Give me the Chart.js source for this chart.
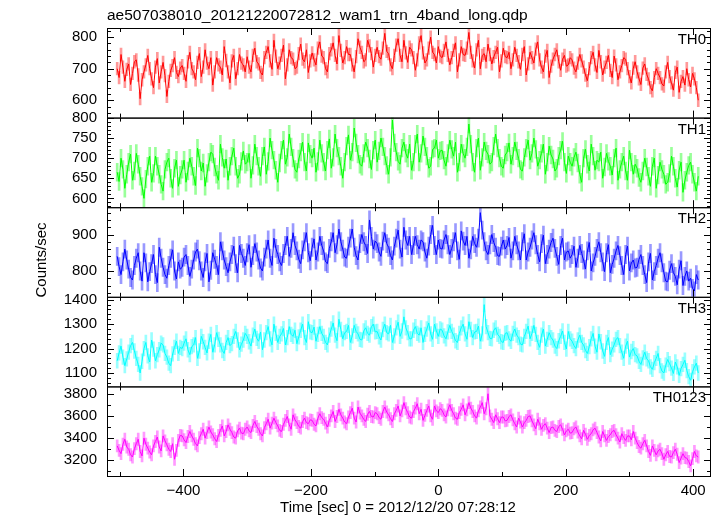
<!DOCTYPE html>
<html lang="en">
<head>
<meta charset="UTF-8" />
<title>ae507038010 WAM light curve</title>
<style>
  body { margin: 0; background: #fff; }
  #wrap { width: 718px; height: 516px; }
</style>
</head>
<body>
<div id="wrap"><canvas id="lc" width="718" height="516"></canvas></div>
<script src="https://cdn.jsdelivr.net/npm/chart.js@4.4.1/dist/chart.umd.min.js"></script>
<script>
// time bins [sec] relative to 2012/12/20 07:28:12
const times = [
  -504,-501,-498,-495,-492,-489,-486,-483,-480,-477,-474,-471,-468,-465,-462,-459,-456,-453,-450,-447,-444,-441,-438,-435,-432,-429,-426,-423,-420,-417,-414,-411,-408,-405,
  -402,-399,-396,-393,-390,-387,-384,-381,-378,-375,-372,-369,-366,-363,-360,-357,-354,-351,-348,-345,-342,-339,-336,-333,-330,-327,-324,-321,-318,-315,-312,-309,-306,-303,
  -300,-297,-294,-291,-288,-285,-282,-279,-276,-273,-270,-267,-264,-261,-258,-255,-252,-249,-246,-243,-240,-237,-234,-231,-228,-225,-222,-219,-216,-213,-210,-207,-204,-201,
  -198,-195,-192,-189,-186,-183,-180,-177,-174,-171,-168,-165,-162,-159,-156,-153,-150,-147,-144,-141,-138,-135,-132,-129,-126,-123,-120,-117,-114,-111,-108,-105,-102,-99,
  -96,-93,-90,-87,-84,-81,-78,-75,-72,-69,-66,-63,-60,-57,-54,-51,-48,-45,-42,-39,-36,-33,-30,-27,-24,-21,-18,-15,-12,-9,-6,-3,0,3,
  6,9,12,15,18,21,24,27,30,33,36,39,42,45,48,51,54,57,60,63,66,69,72,75,78,81,84,87,90,93,96,99,102,105,
  108,111,114,117,120,123,126,129,132,135,138,141,144,147,150,153,156,159,162,165,168,171,174,177,180,183,186,189,192,195,198,201,204,207,
  210,213,216,219,222,225,228,231,234,237,240,243,246,249,252,255,258,261,264,267,270,273,276,279,282,285,288,291,294,297,300,303,306,309,
  312,315,318,321,324,327,330,333,336,339,342,345,348,351,354,357,360,363,366,369,372,375,378,381,384,387,390,393,396,399,402,405,408
];

// counts/sec per band
const th0 = [
  700,672,745,705,660,698,715,650,685,722,728,680,605,665,690,712,742,700,668,640,705,732,655,690,720,678,612,660,695,710,735,688,675,702,
  710,685,660,722,752,700,690,665,720,748,675,705,760,718,700,735,648,690,735,712,705,680,770,726,690,655,725,742,668,700,745,718,712,690,
  738,705,690,742,765,722,715,688,680,735,752,770,725,698,790,740,700,718,742,775,668,712,760,735,730,700,705,748,778,730,722,760,688,725,
  750,728,712,765,785,740,735,700,690,748,760,782,742,715,805,758,718,735,770,745,745,712,690,738,795,768,752,722,728,790,772,748,705,742,
  768,738,730,765,812,755,748,712,700,742,775,795,742,722,790,750,720,768,760,735,695,728,782,805,750,718,728,765,800,752,745,718,770,740,
  735,758,785,742,712,735,758,782,690,728,770,745,742,765,815,752,725,702,760,790,700,742,748,722,778,745,715,738,752,768,690,725,765,738,
  735,752,700,728,768,742,722,698,745,770,680,715,752,735,718,762,785,728,705,690,740,758,672,708,730,745,760,722,695,730,742,708,712,735,
  728,702,690,718,745,725,705,680,662,700,735,752,712,688,758,722,680,705,720,742,695,672,740,712,665,690,710,735,730,700,675,655,702,722,
  690,668,650,702,715,682,668,640,630,672,700,685,672,652,645,690,720,675,655,632,688,705,625,660,675,648,700,665,642,685,668,640,600
];
const th1 = [
  665,642,700,672,625,660,690,710,645,668,712,685,655,630,600,648,680,705,640,662,705,680,660,635,618,672,690,700,650,625,675,695,630,658,
  672,695,640,668,700,680,655,632,725,700,668,688,630,662,690,715,710,678,660,645,735,702,675,698,645,680,705,725,680,650,660,692,718,685,
  690,712,650,682,735,705,680,655,705,728,660,692,750,720,695,670,640,688,720,745,685,702,760,728,700,672,665,698,715,740,690,668,738,710,
  700,725,665,692,745,712,690,668,720,748,675,702,760,725,705,680,650,690,730,758,695,715,775,738,710,685,680,712,740,725,698,672,720,745,
  690,718,750,728,705,682,660,702,795,738,715,692,685,725,740,712,700,735,670,690,735,760,690,712,755,728,705,675,680,722,725,745,700,718,
  720,695,680,712,745,722,705,740,665,690,735,712,700,728,785,735,690,665,725,750,670,702,740,718,710,685,690,730,760,725,700,680,675,708,
  715,738,685,705,740,718,700,672,668,702,725,745,695,712,750,722,680,695,712,735,660,690,730,708,698,668,675,705,720,742,690,662,705,690,
  680,702,715,688,660,640,700,722,685,668,735,705,670,695,690,715,650,678,712,692,680,658,700,725,645,672,690,705,668,645,720,690,660,685,
  675,652,640,668,700,678,655,630,680,700,625,658,690,672,660,635,640,662,705,680,650,628,670,690,615,645,665,682,690,660,640,618,655
];
const th2 = [
  840,812,790,825,860,830,805,782,775,815,835,850,800,772,850,822,770,798,820,845,790,768,865,835,810,790,780,815,835,858,800,778,825,805,
  810,838,845,815,785,805,830,852,860,828,800,782,825,848,770,802,850,832,815,790,880,855,830,812,795,825,845,868,820,795,870,848,835,815,
  850,872,810,842,875,852,830,808,800,838,860,885,835,815,890,862,845,825,815,848,870,895,840,862,905,870,855,832,820,858,880,905,850,828,
  865,888,830,852,895,870,855,825,820,862,880,905,850,872,915,880,860,838,835,868,890,915,865,842,830,875,900,880,870,848,940,895,860,882,
  875,852,840,882,905,875,865,842,830,868,890,912,860,838,920,885,870,895,845,870,895,872,860,885,880,852,835,868,900,925,870,845,885,862,
  860,885,900,872,845,862,880,905,855,832,910,882,870,895,835,858,895,875,865,890,960,912,880,855,845,872,900,878,865,842,840,868,885,860,
  870,892,835,855,895,872,855,830,880,902,830,852,865,885,905,872,845,825,875,898,820,845,860,878,890,862,840,818,870,890,830,852,855,835,
  845,868,810,835,870,848,830,805,855,878,800,822,840,862,880,850,825,798,850,872,795,818,835,855,870,842,815,790,845,868,800,822,830,808,
  810,832,845,815,790,768,825,848,775,798,815,835,850,822,795,772,770,802,820,795,785,762,805,828,760,785,800,772,780,752,745,790,775
];
const th3 = [
  1150,1182,1210,1165,1130,1158,1185,1212,1225,1190,1160,1135,1100,1148,1200,1225,1170,1145,1235,1198,1150,1175,1195,1222,1215,1180,1165,1140,1130,1178,1205,1230,1180,1205,
  1200,1222,1240,1195,1175,1208,1215,1245,1160,1190,1250,1228,1205,1182,1230,1258,1185,1215,1265,1238,1215,1192,1180,1225,1245,1212,1220,1250,1270,1235,1195,1218,1235,1262,
  1250,1228,1210,1255,1280,1242,1230,1268,1195,1235,1265,1290,1240,1215,1300,1262,1225,1250,1260,1282,1215,1245,1290,1258,1250,1275,1220,1248,1275,1300,1245,1225,1310,1268,
  1265,1288,1230,1258,1290,1262,1250,1225,1215,1255,1280,1305,1255,1232,1320,1278,1240,1265,1270,1295,1225,1252,1295,1270,1260,1238,1235,1272,1285,1262,1255,1290,1300,1268,
  1270,1248,1235,1278,1300,1265,1260,1295,1225,1252,1285,1308,1250,1272,1330,1285,1265,1240,1240,1275,1290,1262,1255,1285,1225,1258,1280,1305,1260,1238,1300,1272,1250,1280,
  1275,1252,1240,1268,1295,1270,1255,1232,1225,1262,1285,1300,1260,1238,1310,1278,1245,1268,1270,1292,1230,1260,1380,1290,1265,1242,1240,1275,1285,1258,1250,1228,1225,1262,
  1265,1240,1230,1262,1280,1255,1245,1218,1215,1250,1270,1292,1240,1262,1295,1258,1225,1205,1255,1280,1210,1238,1265,1245,1235,1210,1200,1232,1250,1272,1225,1198,1270,1240,
  1230,1212,1200,1235,1255,1225,1215,1192,1180,1208,1240,1262,1210,1185,1260,1228,1190,1168,1225,1245,1175,1198,1215,1238,1245,1212,1185,1160,1210,1230,1165,1188,1200,1175,
  1170,1148,1135,1162,1185,1158,1150,1125,1115,1142,1160,1180,1130,1108,1100,1132,1155,1138,1120,1098,1145,1125,1090,1118,1135,1152,1110,1085,1070,1105,1125,1140,1100
];
const th0123 = [
  3330,3290,3260,3345,3390,3320,3300,3250,3230,3305,3350,3390,3280,3240,3400,3345,3310,3275,3250,3330,3370,3410,3320,3285,3420,3375,3340,3300,3280,3350,3210,3290,3380,3425,
  3420,3385,3360,3415,3460,3420,3390,3350,3330,3405,3440,3480,3400,3450,3500,3455,3430,3395,3370,3425,3470,3510,3420,3460,3520,3480,3450,3410,3400,3465,3490,3445,3440,3480,
  3500,3465,3450,3515,3550,3505,3480,3440,3420,3495,3530,3570,3490,3535,3580,3540,3510,3470,3460,3525,3560,3595,3520,3480,3610,3565,3540,3505,3490,3550,3580,3540,3530,3565,
  3560,3525,3510,3580,3620,3585,3570,3535,3500,3560,3600,3640,3550,3595,3660,3610,3580,3545,3530,3590,3630,3670,3580,3545,3680,3625,3600,3570,3550,3615,3640,3595,3590,3630,
  3620,3585,3570,3640,3680,3635,3610,3575,3550,3620,3650,3690,3600,3645,3720,3665,3630,3590,3580,3640,3670,3710,3620,3660,3560,3605,3650,3690,3600,3570,3690,3645,3630,3665,
  3650,3610,3590,3655,3700,3650,3620,3580,3570,3630,3660,3700,3610,3655,3720,3670,3640,3600,3580,3645,3680,3720,3620,3665,3800,3600,3570,3540,3610,3575,3540,3590,3590,3555,
  3560,3595,3610,3565,3530,3500,3580,3545,3500,3540,3560,3595,3600,3555,3520,3485,3570,3530,3480,3515,3530,3490,3450,3495,3500,3470,3460,3505,3520,3480,3430,3465,3480,3445,
  3450,3485,3500,3455,3420,3395,3470,3435,3390,3425,3440,3475,3490,3450,3410,3375,3460,3420,3380,3415,3430,3460,3470,3430,3400,3365,3440,3405,3380,3420,3420,3385,3460,3400,
  3360,3325,3310,3350,3380,3330,3280,3245,3330,3290,3250,3285,3300,3260,3210,3250,3280,3235,3230,3270,3300,3255,3180,3220,3260,3225,3220,3190,3150,3215,3280,3240,3230
];

const bandNames = ['TH0', 'TH1', 'TH2', 'TH3', 'TH0123'];
const bandValues = [th0, th1, th2, th3, th0123];
const bandErr = [20, 22, 25, 30, 55];       // 1-sigma error per bin
const bandRanges = [[545, 829], [578, 801], [729, 975], [1045, 1412], [3059, 3866]];
const bandMajor = [100, 50, 100, 100, 200];
const bandMinor = [20, 10, 20, 20, 100];
const xRange = [-520, 428];
const xMajor = 200, xMinor = 100;

const lineColors = ['#ff0000', '#00ff00', '#0000ff', '#00ffff', '#ff00ff'];
const errColors = ['rgba(255,0,0,0.4)', 'rgba(0,255,0,0.4)', 'rgba(0,0,255,0.4)',
                   'rgba(0,255,255,0.4)', 'rgba(255,0,255,0.4)'];

const FONT = '"Liberation Sans", Arial, Helvetica, sans-serif';
const tickFont = { family: FONT, size: 15 };

// multiples of step inside [lo, hi]
function stepValues(lo, hi, step) {
  const out = [];
  for (let v = Math.ceil(lo / step) * step; v <= hi; v += step) out.push(v);
  return out;
}

// datasets: error bars (floating bars) behind, line on top
const datasets = [];
bandValues.forEach((vals, i) => {
  datasets.push({
    type: 'line',
    label: bandNames[i],
    yAxisID: 'y' + i,
    data: times.map((t, k) => ({ x: t, y: vals[k] })),
    borderColor: lineColors[i],
    borderWidth: 1,
    pointRadius: 0,
    tension: 0,
    order: 0
  });
  datasets.push({
    type: 'bar',
    label: bandNames[i] + ' err',
    yAxisID: 'y' + i,
    data: times.map((t, k) => ({ x: t, y: [vals[k] - bandErr[i], vals[k] + bandErr[i]] })),
    backgroundColor: errColors[i],
    barThickness: 2,
    grouped: false,
    order: 1
  });
});

// x axis first, then y axes bottom-up (last defined one is stacked at the top)
const scales = {
  x: {
    type: 'linear', position: 'bottom', min: xRange[0], max: xRange[1], offset: false,
    grid: { display: false, drawTicks: false }, border: { display: false },
    afterBuildTicks: s => { s.ticks = stepValues(xRange[0], xRange[1], xMajor).map(v => ({ value: v })); },
    ticks: {
      autoSkip: false, maxRotation: 0,
      padding: 6, color: '#000', font: tickFont,
      callback: v => String(v).replace('-', '\u2212')
    },
    afterFit: s => { s.height = 40; }
  }
};
for (let i = bandNames.length - 1; i >= 0; i--) {
  scales['y' + i] = {
    type: 'linear', position: 'left', stack: 'panels', stackWeight: 1,
    min: bandRanges[i][0], max: bandRanges[i][1],
    grid: { display: false, drawTicks: false }, border: { display: false },
    afterBuildTicks: s => {
      s.ticks = stepValues(bandRanges[i][0], bandRanges[i][1], bandMajor[i]).map(v => ({ value: v }));
    },
    ticks: {
      autoSkip: false,
      padding: 10, color: '#000', font: tickFont,
      callback: v => String(v)
    },
    afterFit: s => { s.width = 60; }
  };
}

// frames, inward ticks and texts, PGPLOT style
const framePlugin = {
  id: 'frames',
  afterDraw(chart) {
    const ctx = chart.ctx;
    const xs = chart.scales.x;
    const L = xs.left, R = xs.right;
    ctx.save();
    ctx.strokeStyle = '#000';
    ctx.lineWidth = 1;
    ctx.fillStyle = '#000';
    bandNames.forEach((name, i) => {
      const ys = chart.scales['y' + i];
      const T = ys.top, B = ys.bottom;
      ctx.strokeRect(L + 0.5, T + 0.5, R - L - 1, B - T);
      ctx.beginPath();
      // x ticks on top and bottom edge of each panel
      stepValues(xRange[0], xRange[1], xMinor).forEach(v => {
        const px = Math.round(xs.getPixelForValue(v)) + 0.5;
        const len = v % xMajor === 0 ? 7 : 4;
        ctx.moveTo(px, T); ctx.lineTo(px, T + len);
        ctx.moveTo(px, B); ctx.lineTo(px, B - len);
      });
      // y ticks on left and right edge
      stepValues(bandRanges[i][0], bandRanges[i][1], bandMinor[i]).forEach(v => {
        const py = Math.round(ys.getPixelForValue(v)) + 0.5;
        const len = v % bandMajor[i] === 0 ? 7 : 4;
        ctx.moveTo(L, py); ctx.lineTo(L + len, py);
        ctx.moveTo(R, py); ctx.lineTo(R - len, py);
      });
      ctx.stroke();
      ctx.font = '15px ' + FONT;
      ctx.textAlign = 'right';
      ctx.textBaseline = 'alphabetic';
      ctx.fillText(name, R - 5, T + 16);
    });
    // title
    ctx.textAlign = 'left';
    ctx.font = '15.5px ' + FONT;
    ctx.fillText('ae507038010_20121220072812_wam1_trn_4band_long.qdp', L, 20);
    // x title
    ctx.font = '15px ' + FONT;
    ctx.textAlign = 'center';
    ctx.fillText('Time [sec] 0 = 2012/12/20 07:28:12', 398, 512);
    // y title
    ctx.translate(46, 260);
    ctx.rotate(-Math.PI / 2);
    ctx.fillText('Counts/sec', 0, 0);
    ctx.restore();
  }
};

new Chart(document.getElementById('lc'), {
  type: 'line',
  data: { datasets: datasets },
  options: {
    responsive: false,
    animation: false,
    devicePixelRatio: 1,
    layout: { padding: { left: 47, right: 7, top: 28, bottom: 0 } },
    plugins: { legend: { display: false }, title: { display: false }, tooltip: { enabled: false } },
    scales: scales
  },
  plugins: [framePlugin]
});
</script>
</body>
</html>
